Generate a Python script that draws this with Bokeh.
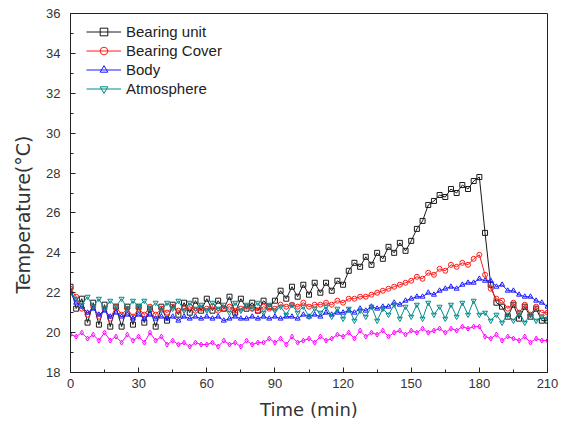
import numpy as np
from bokeh.plotting import figure
from bokeh.models import (Range1d, SingleIntervalTicker, Legend, LegendItem,
                          Title, ColumnDataSource)
from bokeh.embed import file_html
from bokeh.resources import INLINE

# sampling times (min)
time_min = np.arange(0, 210.01, 2.5)

bearing_unit = [
    22.3, 21.2, 21.7, 20.5, 21.5, 20.4, 21.4, 20.3, 21.3, 20.3, 21.3, 20.4,
    21.3, 20.5, 21.2, 20.3, 21.3, 20.6, 21.4, 20.9, 21.5, 21.0, 21.6, 21.1,
    21.7, 21.1, 21.6, 21.2, 21.8, 21.0, 21.7, 21.2, 21.5, 21.1, 21.6, 21.3,
    21.6, 22.1, 21.7, 22.3, 21.8, 22.4, 21.9, 22.5, 22.0, 22.5, 22.1, 22.6,
    22.4, 23.1, 23.5, 23.3, 23.8, 23.4, 24.0, 23.7, 24.3, 24.0, 24.5, 24.1,
    24.6, 25.2, 25.6, 26.4, 26.6, 26.9, 26.8, 27.2, 27.0, 27.4, 27.2, 27.6,
    27.8, 25.0, 22.4, 21.5, 21.3, 20.8, 21.4, 20.7, 21.3, 20.8, 21.2, 20.6,
    20.6,
]

bearing_cover = [
    22.2, 21.8, 21.2, 20.9, 21.3, 20.8, 21.2, 20.7, 21.3, 20.9, 21.2, 20.8,
    21.2, 20.9, 21.3, 20.9, 21.2, 21.0, 21.3, 21.1, 21.2, 21.3, 21.1, 21.2,
    21.2, 21.3, 21.1, 21.2, 21.3, 21.1, 21.2, 21.3, 21.2, 21.1, 21.3, 21.2,
    21.2, 21.4, 21.3, 21.4, 21.3, 21.5, 21.3, 21.4, 21.4, 21.5, 21.4, 21.6,
    21.5, 21.7, 21.7, 21.8, 21.8, 21.9, 22.0, 22.1, 22.2, 22.3, 22.4, 22.5,
    22.6, 22.8, 22.7, 23.0, 22.9, 23.2, 23.1, 23.4, 23.3, 23.5, 23.4, 23.7,
    23.9, 22.9, 22.2, 21.7, 21.6, 21.2, 21.5, 21.0, 21.4, 20.9, 21.3, 21.0,
    21.0,
]

body = [
    22.0, 21.5, 21.3, 21.0, 21.2, 20.9, 21.1, 20.8, 21.0, 20.8, 20.9, 20.7,
    20.9, 20.7, 20.9, 20.7, 20.8, 20.7, 20.8, 20.6, 20.8, 20.7, 20.8, 20.7,
    20.8, 20.7, 20.8, 20.6, 20.7, 20.8, 20.7, 20.7, 20.8, 20.7, 20.8, 20.7,
    20.8, 20.7, 20.8, 20.8, 20.7, 20.9, 20.8, 20.9, 20.8, 21.0, 20.9, 21.0,
    21.0, 21.1, 21.0, 21.2, 21.1, 21.3, 21.2, 21.3, 21.3, 21.5, 21.4, 21.6,
    21.7, 21.8, 21.8, 22.0, 21.9, 22.1, 22.2, 22.3, 22.2, 22.4, 22.5, 22.5,
    22.7, 22.6, 22.6, 22.3, 22.4, 22.1, 22.1, 21.9, 21.8, 21.8, 21.6, 21.5,
    21.3,
]

atmosphere = [
    22.0, 21.7, 21.4, 21.8, 21.3, 21.7, 21.2, 21.6, 21.3, 21.7, 21.2, 21.6,
    21.3, 21.6, 21.2, 21.5, 21.1, 21.5, 21.2, 21.6, 21.1, 21.5, 21.2, 21.4,
    21.1, 21.5, 21.2, 21.4, 21.0, 21.5, 21.1, 21.4, 21.2, 21.5, 21.0, 21.4,
    21.1, 21.3, 20.9, 21.4, 21.0, 21.3, 20.8, 21.2, 21.0, 21.3, 20.8, 21.2,
    20.7, 21.2, 20.6, 21.1, 20.8, 21.3, 20.6, 21.2, 20.9, 21.4, 20.7, 21.3,
    20.8, 21.4, 20.7, 21.5, 20.9, 21.3, 20.7, 21.4, 20.8, 21.5, 20.9, 21.6,
    20.9, 21.0, 20.6, 20.9, 20.5, 20.9, 20.6, 21.0, 20.5, 20.9, 20.6, 20.8,
    20.7,
]

reference = [
    19.9, 19.8, 20.0, 19.7, 19.9, 19.6, 20.0, 19.6, 19.8, 19.5, 19.9, 19.6,
    19.8, 19.5, 20.0, 19.6, 19.8, 19.4, 19.6, 19.4, 19.5, 19.3, 19.5, 19.4,
    19.4, 19.5, 19.3, 19.6, 19.4, 19.5, 19.3, 19.6, 19.4, 19.5, 19.5, 19.7,
    19.5, 19.7, 19.4, 19.8, 19.5, 19.6, 19.7, 19.5, 19.8, 19.6, 19.7, 19.9,
    19.8, 20.0, 19.7, 20.1, 19.8, 20.0, 19.9, 20.1, 19.8, 20.0, 20.1, 19.9,
    20.1, 20.0, 20.2, 20.0, 20.1, 20.2, 20.0, 20.2, 20.1, 20.3, 20.2, 20.3,
    20.3, 19.8, 19.7, 19.9, 19.6, 19.8, 19.7, 19.6, 19.8, 19.5, 19.7, 19.6,
    19.6,
]

series = [
    ("Bearing unit", bearing_unit, "#1a1a1a", "square"),
    ("Bearing Cover", bearing_cover, "#ff1a1a", "circle"),
    ("Body", body, "#1a1aff", "triangle"),
    ("Atmosphere", atmosphere, "#008b8b", "inverted_triangle"),
    (None, reference, "#ff00ff", "diamond"),
]

p = figure(width=570, height=426, output_backend="svg", toolbar_location=None,
           x_range=Range1d(0, 210), y_range=Range1d(18, 36),
           min_border_left=69, min_border_right=23,
           min_border_top=13, min_border_bottom=54)
p.grid.visible = False
p.outline_line_color = "#222222"
p.outline_line_width = 1
p.background_fill_color = "white"
p.border_fill_color = "white"

p.xaxis.ticker = SingleIntervalTicker(interval=30, num_minor_ticks=2)
p.yaxis.ticker = SingleIntervalTicker(interval=2, num_minor_ticks=2)
for ax in (p.xaxis[0], p.yaxis[0]):
    ax.major_tick_in = 5
    ax.major_tick_out = 0
    ax.minor_tick_in = 3
    ax.minor_tick_out = 0
    ax.axis_line_color = "#222222"
    ax.major_tick_line_color = "#222222"
    ax.minor_tick_line_color = "#222222"
    ax.major_label_text_font = "Liberation Sans"
    ax.major_label_text_font_size = "13px"
    ax.major_label_text_color = "#333333"
p.xaxis.major_label_standoff = 6
p.yaxis.major_label_standoff = 10

p.xaxis.axis_label = "Time (min)"
p.xaxis.axis_label_text_font = "DejaVu Sans"
p.xaxis.axis_label_text_font_style = "normal"
p.xaxis.axis_label_text_font_size = "18px"
p.xaxis.axis_label_text_color = "#333333"
p.xaxis.axis_label_standoff = 8

items = []
for name, vals, color, marker in series:
    src = ColumnDataSource(dict(t=time_min, v=vals))
    ln = p.line("t", "v", source=src, line_color=color, line_width=1)
    sc = p.scatter("t", "v", source=src, marker=marker, size=5,
                   line_color=color, fill_color=None, line_width=1)
    if name:
        items.append(LegendItem(label=name, renderers=[ln, sc]))

legend = Legend(items=items, location=(16, 274), padding=0, margin=0,
                spacing=0, glyph_width=35, glyph_height=19, label_height=19,
                label_standoff=5, border_line_color=None,
                background_fill_alpha=0,
                label_text_font="Liberation Sans", label_text_font_size="15px",
                label_text_color="#222222")
p.add_layout(legend)

# vertical axis title, starting above the lower part of the axis
ytitle = Title(text="Temperature(°C)", align="left", offset=79,
               standoff=19, text_font="DejaVu Sans", text_font_size="19px",
               text_font_style="normal", text_color="#333333")
p.add_layout(ytitle, "left")

open("out.html", "w").write(file_html(p, INLINE))
